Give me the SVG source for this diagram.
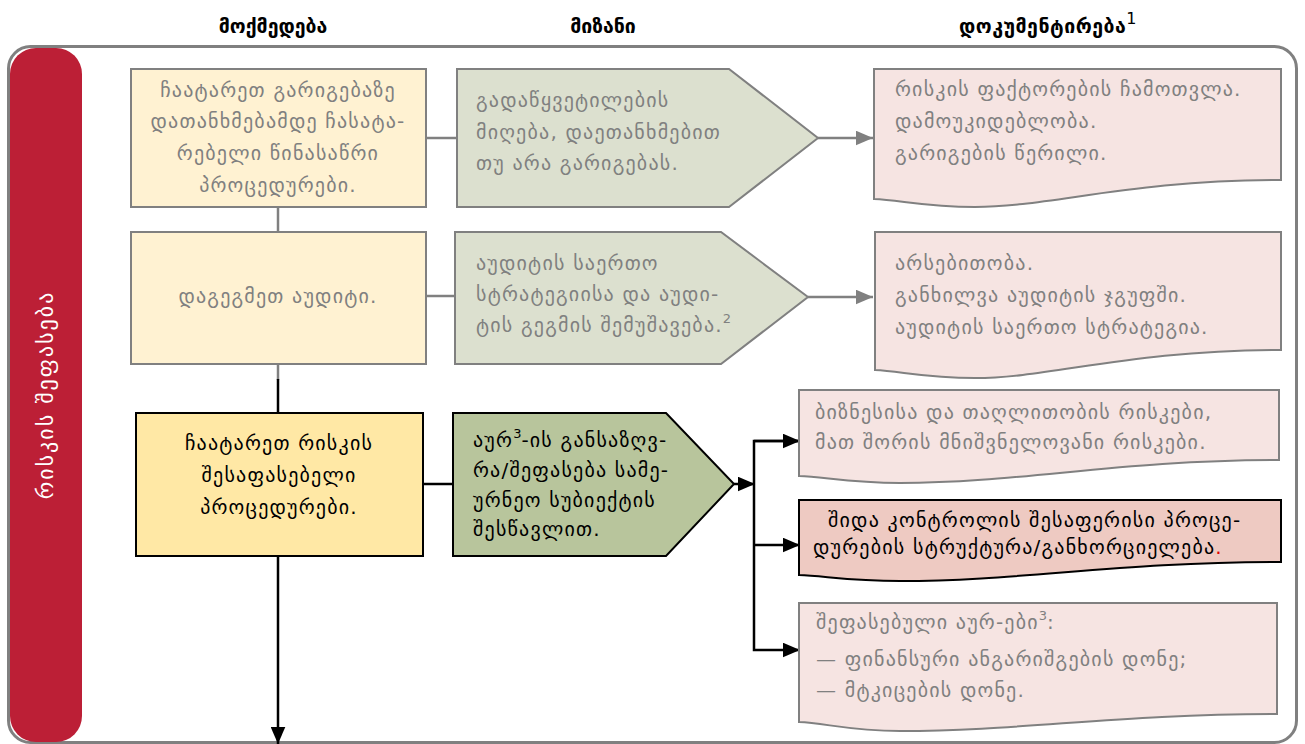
<svg xmlns="http://www.w3.org/2000/svg" width="1305" height="744" viewBox="0 0 1305 744">
  <style>
    .hdr { font-family: "DejaVu Sans", "Noto Sans", sans-serif; font-size: 19.5px; font-weight: bold; fill: #000; text-anchor: middle; }
    .t { font-family: "DejaVu Sans", "Noto Sans", sans-serif; font-size: 20px; letter-spacing: 1.2px; }
    .gr { fill: #808080; }
    .bk { fill: #000; }
    .mid { text-anchor: middle; }
    .box-pale { fill: #FFF2D2; stroke: #808080; stroke-width: 2; }
    .box-main { fill: #FFE8A5; stroke: #000; stroke-width: 2; }
    .pent-pale { fill: #DCE0CF; stroke: #808080; stroke-width: 2; }
    .pent-main { fill: #B8C59C; stroke: #000; stroke-width: 2; }
    .doc-pale { fill: #F6E4E2; stroke: #808080; stroke-width: 2; }
    .doc-main { fill: #EECAC2; stroke: #000; stroke-width: 2; }
    .ln-g { stroke: #808080; stroke-width: 2.5; fill: none; }
    .ln-k { stroke: #000; stroke-width: 2.5; fill: none; }
    .sup { font-size: 13px; letter-spacing: 0; }
  </style>
  <defs>
    <marker id="ahG" markerWidth="7" markerHeight="6" refX="7" refY="3" orient="auto" markerUnits="strokeWidth">
      <path d="M0,0 L7,3 L0,6 Z" fill="#808080"/>
    </marker>
    <marker id="ahK" markerWidth="7" markerHeight="6" refX="7" refY="3" orient="auto" markerUnits="strokeWidth">
      <path d="M0,0 L7,3 L0,6 Z" fill="#000"/>
    </marker>
  </defs>

  <rect width="1305" height="744" fill="#fff"/>

  <!-- column headings -->
  <g id="headings">
    <text class="hdr" x="273" y="33">მოქმედება</text>
    <text class="hdr" x="603" y="33">მიზანი</text>
    <text class="hdr" x="1048" y="33" letter-spacing="0.5">დოკუმენტირება<tspan font-size="16" font-weight="normal" dy="-9">1</tspan></text>
  </g>

  <!-- outer frame and stage band -->
  <rect id="frame" x="8.5" y="46.5" width="1288" height="696" rx="22" fill="none" stroke="#808080" stroke-width="3"/>
  <g id="stage">
    <rect x="10" y="48" width="72" height="694" rx="26" fill="#BC1F36"/>
    <text transform="translate(53,395) rotate(-90)" text-anchor="middle" font-family="DejaVu Sans, sans-serif" font-size="22" letter-spacing="2" fill="#fff">რისკის შეფასება</text>
  </g>

  <!-- connectors -->
  <g id="connectors">
    <line class="ln-g" x1="278" y1="207" x2="278" y2="232"/>
    <line class="ln-g" x1="278" y1="364" x2="278" y2="380"/>
    <line class="ln-k" x1="278" y1="379" x2="278" y2="412"/>
    <line class="ln-k" x1="278" y1="556" x2="278" y2="744" marker-end="url(#ahK)"/>
    <line class="ln-g" x1="426" y1="138" x2="458" y2="138"/>
    <line class="ln-g" x1="426" y1="296" x2="456" y2="296"/>
    <line class="ln-k" x1="423" y1="484" x2="454" y2="484"/>
    <line class="ln-g" x1="818" y1="138" x2="873" y2="138" marker-end="url(#ahG)"/>
    <line class="ln-g" x1="808" y1="297" x2="873" y2="297" marker-end="url(#ahG)"/>
    <line class="ln-k" x1="734" y1="484" x2="755" y2="484" marker-end="url(#ahK)"/>
    <polyline class="ln-k" points="800,441 754,441 754,650 800,650" marker-end="url(#ahK)"/>
    <line class="ln-k" x1="754" y1="545" x2="800" y2="545" marker-end="url(#ahK)"/>
    <line class="ln-k" x1="754" y1="441" x2="800" y2="441" marker-end="url(#ahK)"/>
  </g>

  <!-- action column -->
  <g id="act-preliminary">
    <rect class="box-pale" x="131" y="69" width="295" height="138"/>
    <text class="t gr mid" x="278" y="97">ჩაატარეთ  გარიგებაზე</text>
    <text class="t gr mid" x="278" y="128">დათანხმებამდე  ჩასატა-</text>
    <text class="t gr mid" x="278" y="160">რებელი  წინასაწრი</text>
    <text class="t gr mid" x="278" y="192">პროცედურები.</text>
  </g>
  <g id="act-plan">
    <rect class="box-pale" x="131" y="232" width="295" height="132"/>
    <text class="t gr mid" x="278" y="303">დაგეგმეთ  აუდიტი.</text>
  </g>
  <g id="act-risk">
    <rect class="box-main" x="136" y="413" width="287" height="143"/>
    <text class="t bk mid" x="279" y="450">ჩაატარეთ  რისკის</text>
    <text class="t bk mid" x="279" y="482">შესაფასებელი</text>
    <text class="t bk mid" x="279" y="514">პროცედურები.</text>
  </g>

  <!-- goal column -->
  <g id="goal-decision">
    <polygon class="pent-pale" points="457,69 729,69 818,138 729,207 457,207"/>
    <text class="t gr" x="476" y="107">გადაწყვეტილების</text>
    <text class="t gr" x="476" y="139">მიღება,  დაეთანხმებით</text>
    <text class="t gr" x="476" y="170">თუ  არა  გარიგებას.</text>
  </g>
  <g id="goal-strategy">
    <polygon class="pent-pale" points="455,232 721,232 808,297 721,364 455,364"/>
    <text class="t gr" x="476" y="270">აუდიტის  საერთო</text>
    <text class="t gr" x="476" y="301">სტრატეგიისა  და  აუდი-</text>
    <text class="t gr" x="476" y="332">ტის  გეგმის  შემუშავება.<tspan class="sup" dy="-9">2</tspan></text>
  </g>
  <g id="goal-rmm">
    <polygon class="pent-main" points="453,413 666,413 734,484 666,556 453,556"/>
    <text class="t bk" x="473" y="447">აურ<tspan class="sup" dy="-9">3</tspan><tspan dy="9">-ის  განსაზღვ-</tspan></text>
    <text class="t bk" x="473" y="477">რა/შეფასება  სამე-</text>
    <text class="t bk" x="473" y="507">ურნეო  სუბიექტის</text>
    <text class="t bk" x="473" y="536">შესწავლით.</text>
  </g>

  <!-- documentation column -->
  <g id="doc-independence">
    <path class="doc-pale" d="M874,69 H1281 V180 C1130,180 1050,207 975,207 C925,207 900,200 874,199 Z"/>
    <text class="t gr" x="895" y="96">რისკის  ფაქტორების  ჩამოთვლა.</text>
    <text class="t gr" x="895" y="128">დამოუკიდებლობა.</text>
    <text class="t gr" x="895" y="160">გარიგების  წერილი.</text>
  </g>
  <g id="doc-materiality">
    <path class="doc-pale" d="M875,232 H1281 V350 C1130,350 1050,378 975,378 C925,378 900,371 875,370 Z"/>
    <text class="t gr" x="895" y="270">არსებითობა.</text>
    <text class="t gr" x="895" y="302">განხილვა  აუდიტის  ჯგუფში.</text>
    <text class="t gr" x="895" y="334">აუდიტის  საერთო  სტრატეგია.</text>
  </g>
  <g id="doc-risks">
    <path class="doc-pale" d="M799,390 H1279 V460 C1120,460 1020,483 900,483 C850,483 825,477 799,476 Z"/>
    <text class="t gr" x="815" y="419">ბიზნესისა  და  თაღლითობის  რისკები,</text>
    <text class="t gr" x="815" y="449">მათ  შორის  მნიშვნელოვანი  რისკები.</text>
  </g>
  <g id="doc-controls">
    <path class="doc-main" d="M799,500 H1281 V562 C1120,562 1020,581 900,581 C850,581 825,576 799,575 Z"/>
    <text class="t bk" x="828" y="527">შიდა  კონტროლის  შესაფერისი  პროცე-</text>
    <text class="t bk" x="813" y="554">დურების  სტრუქტურა/განხორციელება<tspan fill="#e00000">.</tspan></text>
  </g>
  <g id="doc-assessed">
    <path class="doc-pale" d="M799,603 H1277 V714 C1120,714 1020,731 900,731 C850,731 825,723 799,722 Z"/>
    <text class="t gr" x="816" y="629">შეფასებული  აურ-ები<tspan class="sup" dy="-9">3</tspan><tspan dy="9">:</tspan></text>
    <text class="t gr" x="816" y="666">—  ფინანსური  ანგარიშგების  დონე;</text>
    <text class="t gr" x="816" y="697">—  მტკიცების  დონე.</text>
  </g>
</svg>
